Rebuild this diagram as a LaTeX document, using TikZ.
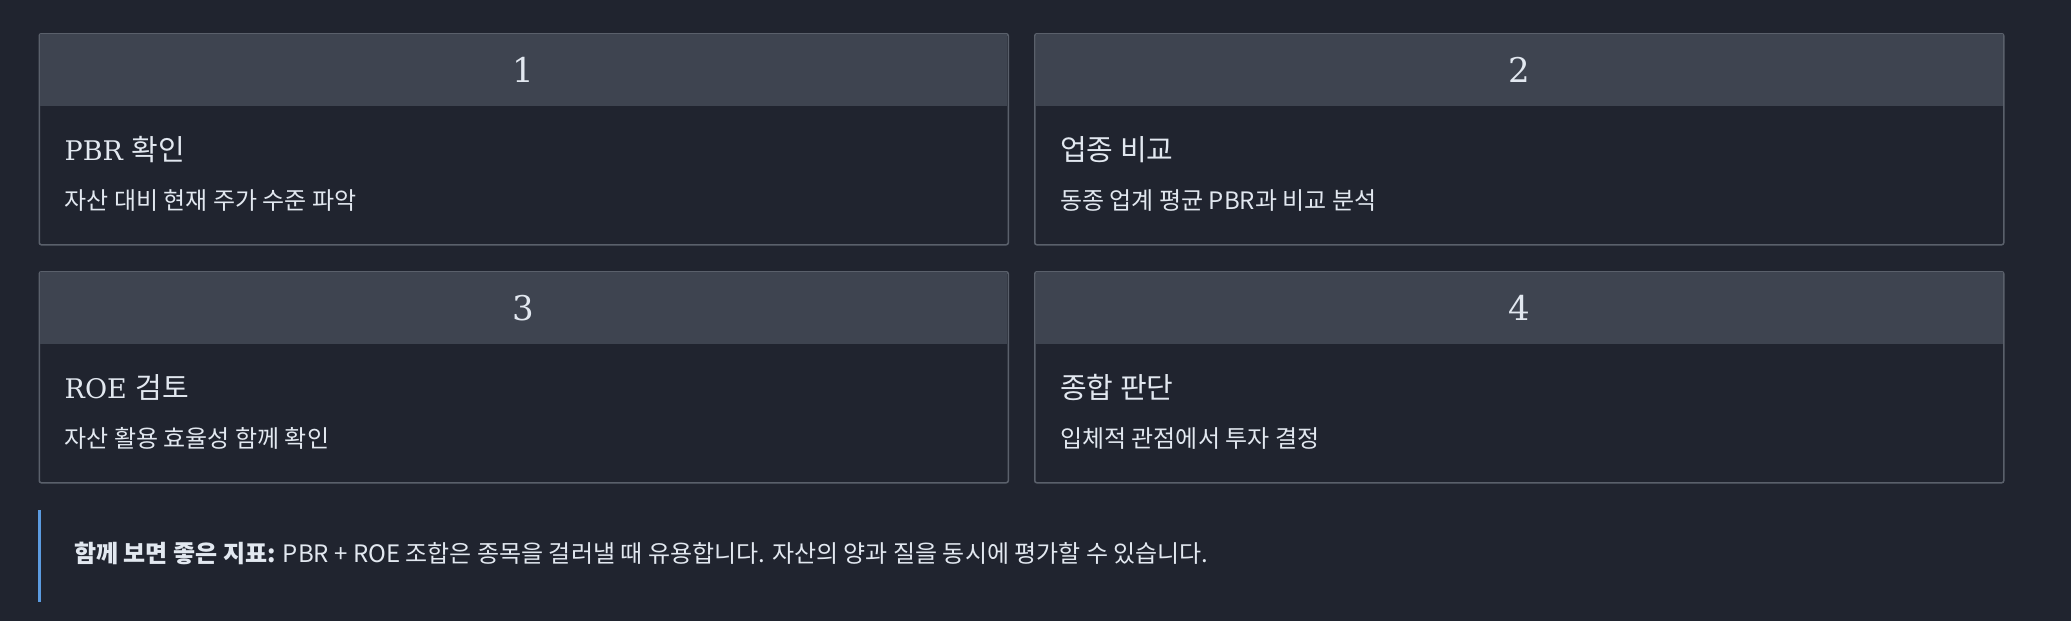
\documentclass[tikz,border=0pt]{standalone}
\usepackage{fontspec}
\setmainfont{Noto Sans CJK KR}
\newfontfamily\slabfont{DejaVu Serif}
\newfontfamily\krfont{Noto Sans CJK KR}
\usetikzlibrary{positioning,calc}
\definecolor{pagebg}{HTML}{20242F}
\definecolor{headbg}{HTML}{3E4450}
\definecolor{cardline}{HTML}{5A606B}
\definecolor{textfg}{HTML}{E2E8F0}
\definecolor{notebar}{HTML}{5B9BE0}
\tikzset{
  cardbox/.style={draw=cardline,line width=1.5pt,fill=pagebg,rounded corners=2pt,
    minimum width=969pt,minimum height=211pt,inner sep=0pt,anchor=north west},
  headbox/.style={fill=headbg,minimum width=967pt,minimum height=72pt,inner sep=0pt},
  numlabel/.style={text=textfg,font=\slabfont\fontsize{34}{40}\selectfont},
  cardtitle/.style={text=textfg,anchor=base west,inner sep=0pt,font=\fontsize{29}{34}\selectfont},
  carddesc/.style={text=textfg,anchor=base west,inner sep=0pt,font=\krfont\fontsize{24}{28}\selectfont},
  notetext/.style={text=textfg,anchor=base west,inner sep=0pt,font=\krfont\fontsize{24}{28}\selectfont}
}
% one card: name, x, y, number, latin part of title, korean part of title, text
\newcommand{\stepcard}[7]{
  \node[cardbox] (card#1) at (#2,#3) {};
  \node[headbox,below=0.75pt of card#1.north] (head#1) {};
  \node[numlabel] (num#1) at (head#1.center) {#4};
  \node[cardtitle] (title#1) at ($(card#1.north west)+(26,-127)$)
    {{\slabfont\fontsize{27}{32}\selectfont #5}{\krfont #6}};
  \node[carddesc] (desc#1) at ($(card#1.north west)+(26,-176)$) {#7};
}

\begin{document}
\begin{tikzpicture}[x=1pt,y=1pt]
\fill[pagebg] (0,0) rectangle (2071,-621);
\useasboundingbox (0,0) rectangle (2071,-621);

\stepcard{1}{38.5}{-33}{1}{PBR }{확인}{자산 대비 현재 주가 수준 파악}
\stepcard{2}{1034}{-33}{2}{}{업종 비교}{동종 업계 평균 PBR과 비교 분석}
\stepcard{3}{38.5}{-271}{3}{ROE }{검토}{자산 활용 효율성 함께 확인}
\stepcard{4}{1034}{-271}{4}{}{종합 판단}{입체적 관점에서 투자 결정}

% note at the bottom
\coordinate (bartop) at (39,-510);
\coordinate (barbot) at (39,-602);
\draw[notebar,line width=3pt] (bartop) -- (barbot);
\node[notetext] (note) at (74,-562)
  {\textbf{함께 보면 좋은 지표:} PBR + ROE 조합은 종목을 걸러낼 때 유용합니다. 자산의 양과 질을 동시에 평가할 수 있습니다.};
\end{tikzpicture}
\end{document}
